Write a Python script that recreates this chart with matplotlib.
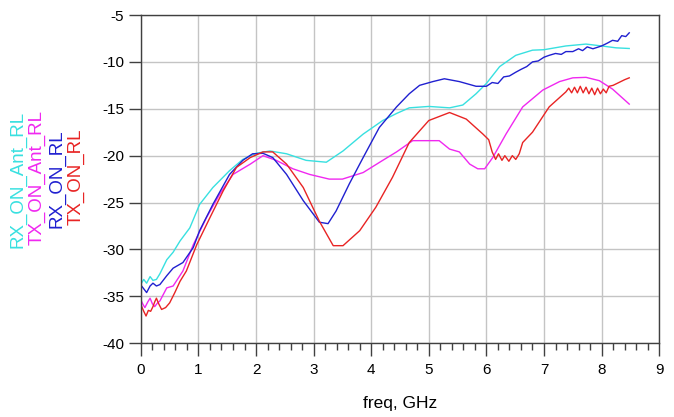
import numpy as np
import matplotlib.pyplot as plt

plt.rcParams['font.family'] = ['Liberation Sans', 'DejaVu Sans']
plt.rcParams['axes.unicode_minus'] = False

# Curvas (freq em GHz, perda de retorno em dB)
f_rx_ant = [0.0, 0.05, 0.1, 0.16, 0.21, 0.27, 0.33, 0.45, 0.56, 0.68, 0.85, 1.02, 1.25, 1.54,
            1.77, 2.0, 2.24, 2.53, 2.87, 3.22, 3.51, 3.86, 4.2, 4.44, 4.66, 5.0, 5.36, 5.59,
            5.82, 6.0, 6.23, 6.51, 6.8, 7.0, 7.38, 7.73, 8.0, 8.25, 8.48]
rx_ant = [-33.7, -33.2, -33.6, -32.9, -33.3, -33.2, -32.6, -31.1, -30.3, -29.1, -27.7, -25.2,
          -23.4, -21.6, -20.4, -19.75, -19.5, -19.8, -20.5, -20.7, -19.5, -17.7, -16.25, -15.5,
          -14.9, -14.75, -14.9, -14.6, -13.4, -12.3, -10.5, -9.3, -8.75, -8.7, -8.3, -8.1,
          -8.3, -8.5, -8.57]

f_tx_ant = [0.0, 0.04, 0.07, 0.12, 0.16, 0.2, 0.24, 0.29, 0.33, 0.45, 0.56, 0.73, 0.91, 1.14,
            1.37, 1.6, 1.9, 2.12, 2.35, 2.64, 2.93, 3.27, 3.5, 3.86, 4.2, 4.44, 4.72, 5.0,
            5.18, 5.36, 5.53, 5.71, 5.85, 5.97, 6.11, 6.34, 6.63, 6.98, 7.27, 7.5, 7.73, 7.96,
            8.19, 8.48]
tx_ant = [-35.4, -35.9, -36.2, -35.6, -35.2, -35.8, -36.1, -35.7, -35.5, -34.1, -33.9, -32.3,
          -29.5, -26.6, -24.1, -22.0, -20.9, -20.0, -20.5, -21.4, -22.0, -22.5, -22.5, -21.8,
          -20.5, -19.6, -18.4, -18.4, -18.4, -19.3, -19.6, -20.9, -21.4, -21.4, -20.2, -17.7,
          -14.8, -13.0, -12.1, -11.7, -11.65, -12.0, -12.9, -14.5]

f_rx = [0.0, 0.05, 0.1, 0.16, 0.21, 0.27, 0.33, 0.45, 0.56, 0.73, 0.91, 1.02, 1.25, 1.54,
        1.77, 1.94, 2.12, 2.29, 2.53, 2.82, 3.1, 3.25, 3.39, 3.62, 3.86, 4.14, 4.44, 4.66,
        4.84, 5.07, 5.27, 5.53, 5.82, 6.0, 6.1, 6.2, 6.3, 6.4, 6.51, 6.6, 6.7, 6.8, 6.9,
        7.0, 7.09, 7.2, 7.3, 7.38, 7.5, 7.6, 7.67, 7.75, 7.85, 8.0, 8.1, 8.19, 8.28, 8.35,
        8.42, 8.48]
rx = [-33.8, -34.2, -34.6, -33.9, -33.6, -33.9, -33.75, -32.8, -32.0, -31.4, -29.8, -28.0,
      -25.2, -22.0, -20.5, -19.8, -19.75, -20.2, -22.0, -24.8, -27.1, -27.25, -25.9, -23.0,
      -20.2, -17.0, -14.8, -13.4, -12.5, -12.1, -11.8, -12.1, -12.6, -12.6, -12.2, -12.3,
      -11.6, -11.5, -11.1, -10.8, -10.5, -10.0, -9.9, -9.5, -9.3, -9.1, -9.2, -8.9, -8.9,
      -8.6, -8.8, -8.4, -8.6, -8.3, -8.0, -7.7, -7.8, -7.2, -7.3, -6.9]

f_tx = [0.0, 0.05, 0.09, 0.13, 0.17, 0.21, 0.24, 0.27, 0.31, 0.36, 0.43, 0.5, 0.59, 0.68,
        0.79, 0.97, 1.2, 1.43, 1.66, 1.9, 2.12, 2.29, 2.53, 2.82, 3.1, 3.34, 3.51, 3.8,
        4.08, 4.37, 4.66, 5.0, 5.36, 5.65, 5.94, 6.04, 6.1, 6.16, 6.21, 6.27, 6.32, 6.39,
        6.45, 6.51, 6.57, 6.63, 6.8, 7.09, 7.38, 7.43, 7.48, 7.53, 7.58, 7.63, 7.68, 7.73,
        7.78, 7.83, 7.88, 7.93, 7.98, 8.03, 8.08, 8.13, 8.2, 8.3, 8.4, 8.48]
tx = [-35.9, -36.6, -37.1, -36.5, -36.6, -36.1, -35.6, -35.2, -35.8, -36.4, -36.2, -35.7,
      -34.6, -33.4, -32.3, -29.5, -26.6, -23.75, -21.25, -20.2, -19.6, -19.6, -20.9, -23.4,
      -27.0, -29.6, -29.6, -28.0, -25.5, -22.3, -18.6, -16.25, -15.4, -16.1, -17.7, -18.3,
      -19.6, -20.4, -19.8, -20.5, -20.0, -20.6, -20.0, -20.4, -19.8, -18.6, -17.5, -14.8,
      -13.2, -12.8, -13.3, -12.7, -13.3, -12.6, -13.3, -12.7, -13.4, -12.8, -13.5, -12.8,
      -13.4, -12.9, -13.3, -12.6, -12.5, -12.2, -11.9, -11.7]

nomes = ["RX_ON_Ant_RL", "TX_ON_Ant_RL", "RX_ON_RL", "TX_ON_RL"]
cores = ["#38e0e0", "#f028f0", "#2020d0", "#e82424"]

fig = plt.figure(figsize=(6.74, 4.17), dpi=100)
ax = fig.add_axes([0.209, 0.177, 0.769, 0.787])

series = [(f_rx_ant, rx_ant), (f_tx_ant, tx_ant), (f_rx, rx), (f_tx, tx)]
for (f, v), cor in zip(series, cores):
    ax.plot(f, v, color=cor, lw=1.0)

ax.set_xlim(0, 9)
ax.set_ylim(-40, -5)
ax.set_xticks(np.arange(0, 10, 1))
ax.set_xticks(np.arange(0, 9.01, 0.2), minor=True)
ax.set_yticks(np.arange(-40, -4, 5))
ax.grid(True, color="#c4c4c4", lw=1.0)
ax.tick_params(axis="both", which="major", direction="out", length=9, width=1,
               color="#404040", labelsize=11, pad=3)
ax.tick_params(axis="x", which="major", pad=5)
ax.tick_params(axis="x", which="minor", direction="out", length=5, width=1, color="#404040")
for s in ax.spines.values():
    s.set_color("#404040")
    s.set_linewidth(1.0)
ax.set_xlabel("freq, GHz", fontsize=12.5, labelpad=14)

# Legenda vertical à esquerda
pos = [(0.027, 0.405), (0.055, 0.412), (0.085, 0.453), (0.113, 0.46)]
for nome, cor, (x, y) in zip(nomes, cores, pos):
    fig.text(x, y, nome, color=cor, rotation=90, ha="center", va="bottom", fontsize=13.5)

plt.savefig("out.png", dpi=100)
